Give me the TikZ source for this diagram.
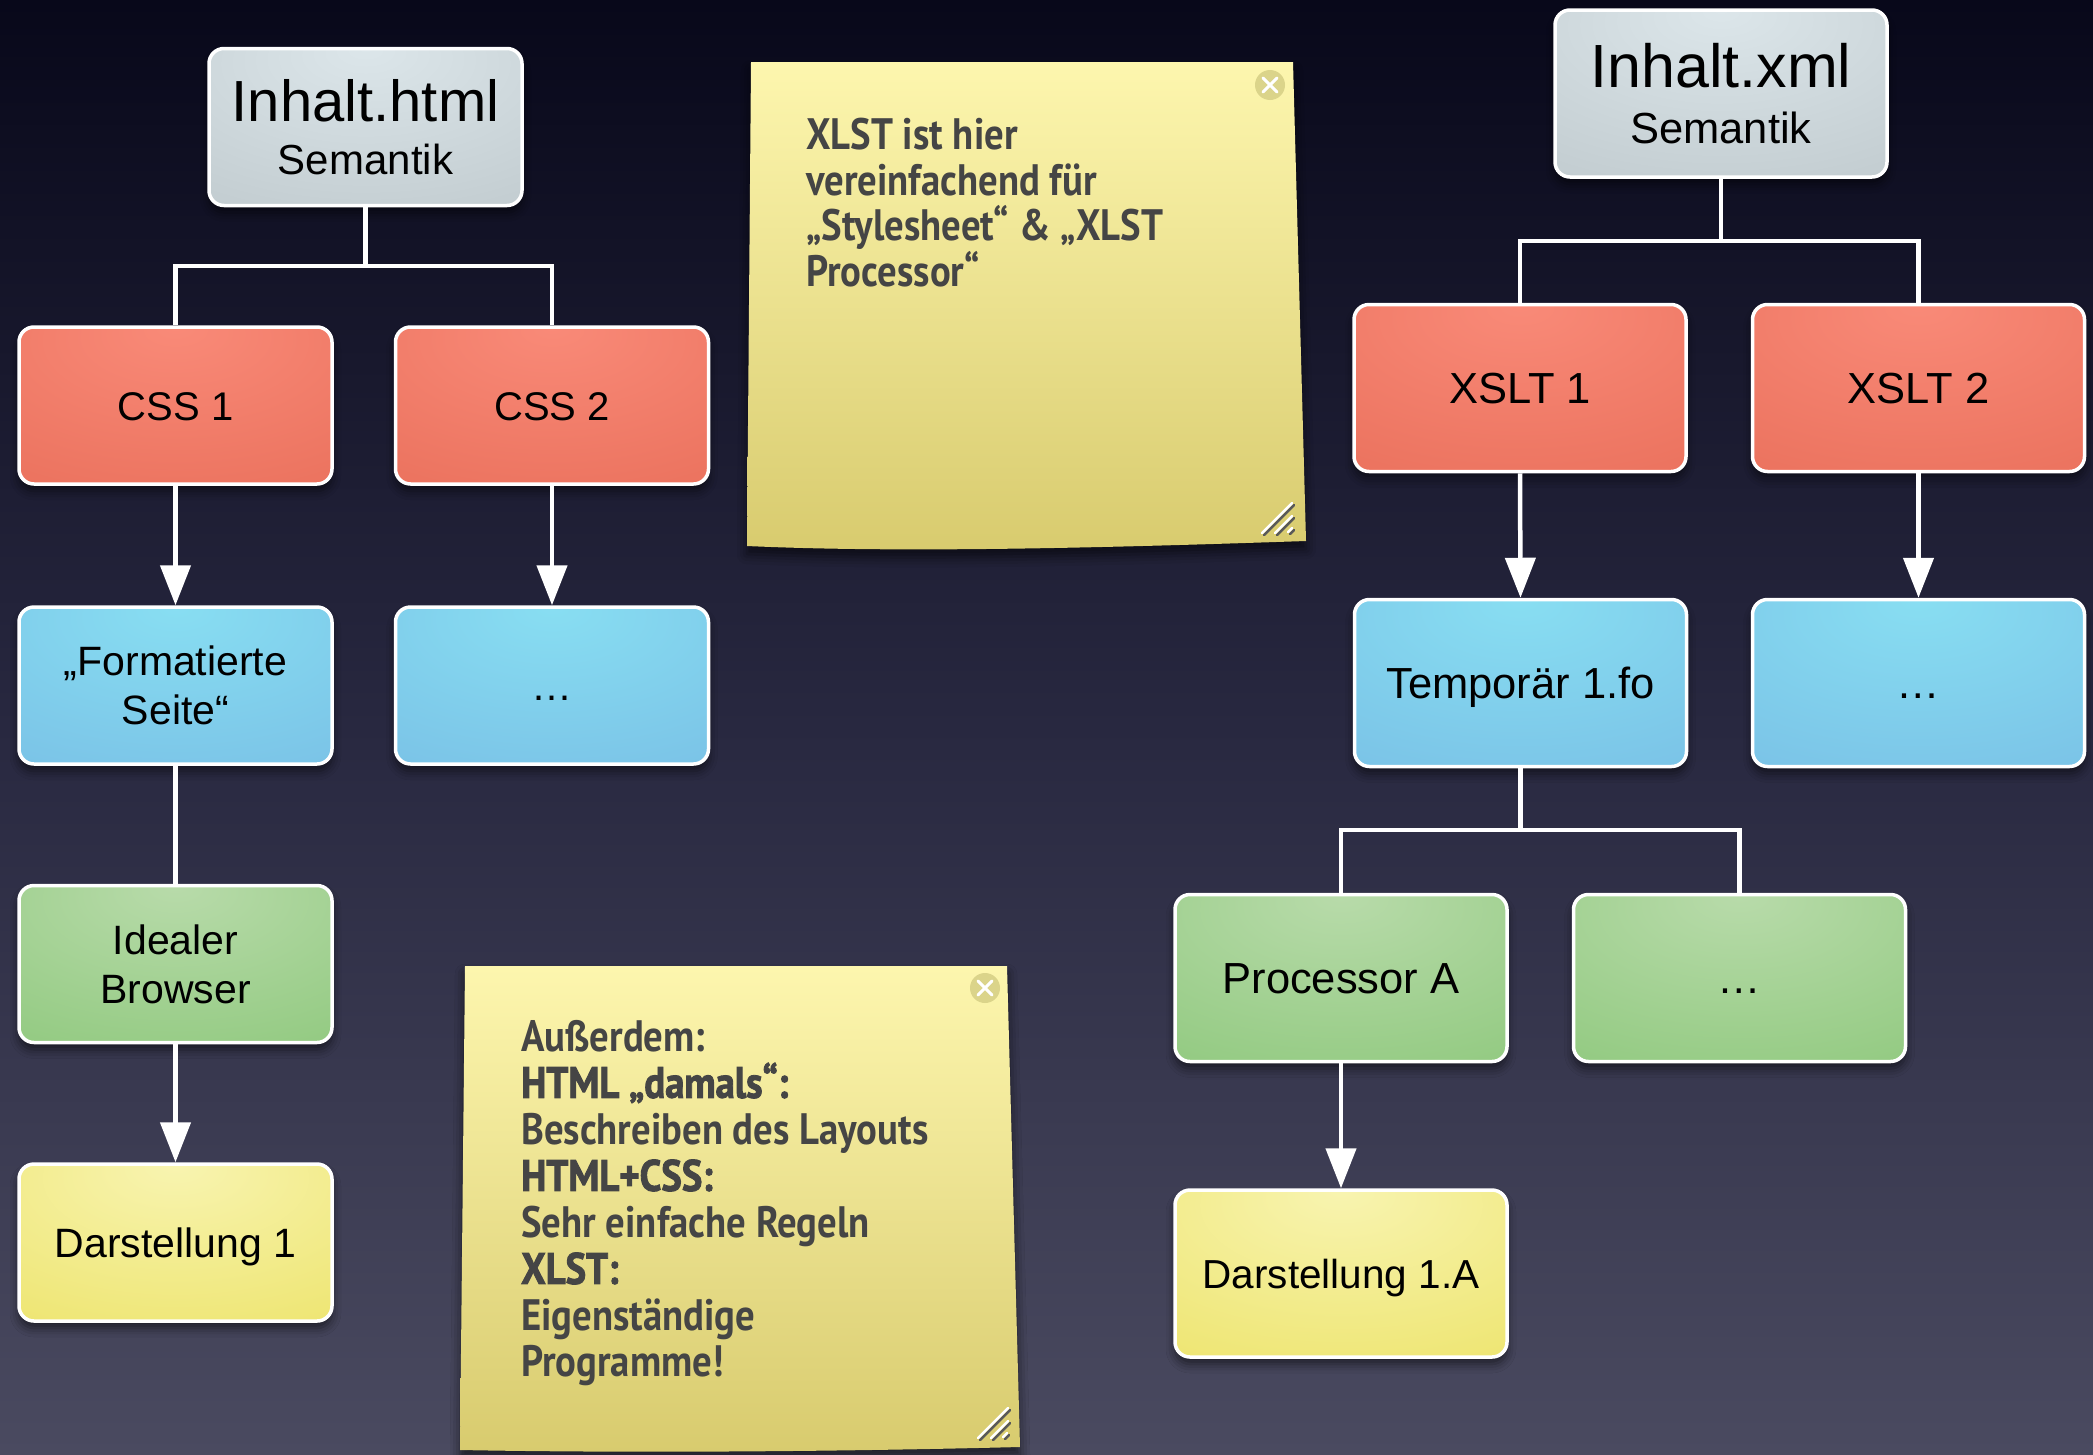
\documentclass[tikz,border=0pt]{standalone}
\usepackage{fontspec}
\setmainfont{Liberation Sans}
\newfontfamily\notefont{PT Sans}[FakeStretch=0.88, UprightFont={* Bold}, BoldFont={* Bold}, BoldFeatures={FakeBold=2}]
\usetikzlibrary{arrows.meta,shadows.blur}

\definecolor{redin}{HTML}{F98A78}\definecolor{redout}{HTML}{E0604A}
\definecolor{bluein}{HTML}{88DEF2}\definecolor{blueout}{HTML}{70AEDE}
\definecolor{greenin}{HTML}{B8DBAA}\definecolor{greenout}{HTML}{76BD62}
\definecolor{yelin}{HTML}{F8F4B0}\definecolor{yelout}{HTML}{E6DA42}
\definecolor{grayin}{HTML}{DCE6EA}\definecolor{grayout}{HTML}{AEB8BC}
\definecolor{notetop}{HTML}{FDF6AE}\definecolor{notebot}{HTML}{D8CB6E}
\definecolor{notegray}{HTML}{454545}
\definecolor{closefill}{HTML}{DBD48A}
\definecolor{bg0}{HTML}{5E5E70}\definecolor{bg1}{HTML}{4A4A60}
\definecolor{bg2}{HTML}{282840}\definecolor{bg3}{HTML}{08081A}
\definecolor{bg4}{HTML}{000000}

\pgfdeclareradialshading{redsh}{\pgfpoint{0bp}{25bp}}{color(0bp)=(redin); color(85bp)=(redout); color(120bp)=(redout)}
\pgfdeclareradialshading{bluesh}{\pgfpoint{0bp}{25bp}}{color(0bp)=(bluein); color(85bp)=(blueout); color(120bp)=(blueout)}
\pgfdeclareradialshading{greensh}{\pgfpoint{0bp}{25bp}}{color(0bp)=(greenin); color(85bp)=(greenout); color(120bp)=(greenout)}
\pgfdeclareradialshading{yelsh}{\pgfpoint{0bp}{25bp}}{color(0bp)=(yelin); color(85bp)=(yelout); color(120bp)=(yelout)}
\pgfdeclareradialshading{graysh}{\pgfpoint{0bp}{25bp}}{color(0bp)=(grayin); color(85bp)=(grayout); color(120bp)=(grayout)}
\pgfdeclareverticalshading{bgsh}{100bp}{color(0bp)=(bg0); color(25bp)=(bg1); color(50bp)=(bg2); color(75bp)=(bg3); color(100bp)=(bg4)}

\tikzset{
  box/.style={rounded corners=15pt, draw=white, line width=3.5pt,
    minimum width=313pt, minimum height=157pt, inner sep=0pt, align=center,
    font=\fontsize{41}{49}\selectfont,
    blur shadow={shadow xshift=0pt, shadow yshift=-7pt, shadow blur radius=9pt, shadow opacity=55}},
  rbox/.style={box, minimum width=332pt, minimum height=167pt, font=\fontsize{43.5}{52}\selectfont},
  onel/.style={text height=29.3pt, text depth=0pt},
  oner/.style={text height=31.2pt, text depth=0pt},
  redfill/.style={shade, shading=redsh},
  bluefill/.style={shade, shading=bluesh},
  greenfill/.style={shade, shading=greensh},
  yelfill/.style={shade, shading=yelsh},
  grayfill/.style={shade, shading=graysh},
  conn/.style={draw=white, line width=4.5pt},
  arr/.style={conn, -{Triangle[length=40pt,width=30pt]}},
  note/.style={shade, top color=notetop, bottom color=notebot,
    blur shadow={shadow xshift=0pt, shadow yshift=-8pt, shadow blur radius=10pt, shadow opacity=60}},
  notetext/.style={text=notegray, align=left, inner sep=0pt, anchor=north west},
  closebtn/.style={fill=closefill},
  closex/.style={draw=white, line width=3pt, line cap=round},
  grip/.style={draw=white, line width=2.5pt, line cap=round},
  gripshadow/.style={draw=gray!70!black, line width=2.5pt, line cap=round},
}

\begin{document}
\begin{tikzpicture}[x=1pt, y=-1pt]
\useasboundingbox (0,0) rectangle (2093,1454);
\shade[shading=bgsh] (0,0) rectangle (2093,1454);

% ---------- sticky note 1 ----------
\path[note] (751,62) -- (1293,62) -- (1306,541) .. controls (1100,548) and (900,553) .. (747,546) -- cycle;
\fill[closebtn] (1270,85) circle (15pt);
\draw[closex] (1263,78) -- (1277,92) (1263,92) -- (1277,78);
\draw[gripshadow] (1264,535) -- (1294,505) (1277,535) -- (1294,518) (1290,534) -- (1294,530);
\draw[grip] (1262,533) -- (1292,503) (1275,533) -- (1292,516) (1288,532) -- (1292,528);
\node[notetext, font=\notefont\fontsize{44}{45.5}\selectfont] (note1) at (806,118)
  {XLST ist hier\\vereinfachend für\\„Stylesheet“ \& „XLST\\Processor“};

% ---------- sticky note 2 ----------
\path[note] (465,966) -- (1007,966) -- (1020,1447) .. controls (820,1452) and (620,1453) .. (460,1450) -- cycle;
\fill[closebtn] (985,988) circle (15pt);
\draw[closex] (978,981) -- (992,995) (978,995) -- (992,981);
\draw[gripshadow] (980,1440) -- (1010,1410) (993,1440) -- (1010,1423) (1005,1439) -- (1009,1435);
\draw[grip] (978,1438) -- (1008,1408) (991,1438) -- (1008,1421) (1003,1437) -- (1007,1433);
\node[notetext, font=\notefont\fontsize{44}{46.5}\selectfont] (note2) at (521,1020)
  {Außerdem:\\\textbf{HTML „damals“:}\\Beschreiben des Layouts\\\textbf{HTML+CSS:}\\Sehr einfache Regeln\\\textbf{XLST:}\\Eigenständige\\Programme!};

% ---------- left tree ----------
\node[box, grayfill] (html) at (365.5,127)
  {{\fontsize{58}{58}\selectfont Inhalt.html}\\[4pt]{\fontsize{42}{42}\selectfont Semantik}};
\node[box, redfill, onel, font=\fontsize{40}{49}\selectfont] (css1) at (175.5,405.5) {CSS 1};
\node[box, redfill, onel, font=\fontsize{40}{49}\selectfont] (css2) at (552,405.5) {CSS 2};
\node[box, bluefill] (fmt) at (175.5,685.5) {„Formatierte\\Seite“};
\node[box, bluefill, onel] (dots1) at (552,685.5) {…};
\node[box, greenfill] (ideal) at (175.5,964) {Idealer\\Browser};
\node[box, yelfill, onel] (dar1) at (175.5,1242.5) {Darstellung 1};

\coordinate (jl) at (365.5,266);
\draw[conn] (html.south) -- (jl);
\draw[conn] (css1.north) |- (jl) -| (css2.north);
\draw[arr] (css1.south) -- (fmt.north);
\draw[arr] (css2.south) -- (dots1.north);
\draw[conn] (fmt.south) -- (ideal.north);
\draw[arr] (ideal.south) -- (dar1.north);

% ---------- right tree ----------
\node[rbox, grayfill] (xml) at (1721,93.5)
  {{\fontsize{61}{61}\selectfont Inhalt.xml}\\[3.5pt]{\fontsize{43.5}{43.5}\selectfont Semantik}};
\node[rbox, redfill, oner] (xslt1) at (1520,388) {XSLT 1};
\node[rbox, redfill, oner] (xslt2) at (1918.5,388) {XSLT 2};
\node[rbox, bluefill, oner] (temp) at (1520.5,683) {Temporär 1.fo};
\node[rbox, bluefill, oner] (dots2) at (1918.5,683) {…};
\node[rbox, greenfill, oner] (proc) at (1341,978) {Processor A};
\node[rbox, greenfill, oner] (dots3) at (1739.5,978) {…};
\node[rbox, yelfill, text height=29pt, text depth=0pt, font=\fontsize{40.5}{49}\selectfont] (dar1a) at (1341,1273.5) {Darstellung 1.A};

\coordinate (jr) at (1721,241);
\draw[conn] (xml.south) -- (jr);
\draw[conn] (xslt1.north) |- (jr) -| (xslt2.north);
\draw[arr] (xslt1.south) -- (temp.north);
\draw[arr] (xslt2.south) -- (dots2.north);
\coordinate (jt) at (1520.5,830);
\draw[conn] (temp.south) -- (jt);
\draw[conn] (proc.north) |- (jt) -| (dots3.north);
\draw[arr] (proc.south) -- (dar1a.north);
\end{tikzpicture}
\end{document}
